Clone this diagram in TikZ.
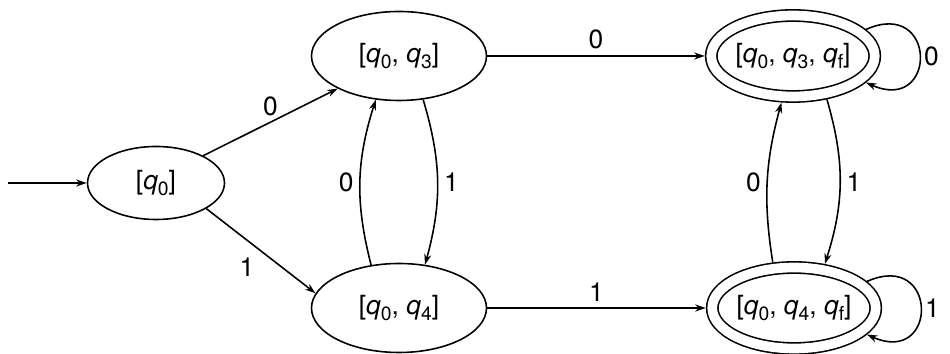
\documentclass[tikz,border=0pt]{standalone}
\usepackage{fontspec}
\setmainfont{TeX Gyre Heros}
\usepackage{tikz}
\usetikzlibrary{arrows.meta,shapes.geometric}

\newcommand{\qs}[1]{\textit{q}\raisebox{-0.4ex}{\fontsize{11}{11}\selectfont #1}}

\begin{document}
\begin{tikzpicture}[>={Stealth[length=6pt,width=4pt]}, line width=0.9pt, font=\fontsize{15}{18}\selectfont,
  state/.style={draw, ellipse, inner sep=0pt, minimum width=3.5cm, minimum height=1.78cm},
  accept/.style={state, double, double distance=5.5pt, outer sep=3.7pt, minimum width=3.27cm, minimum height=1.62cm}]
\useasboundingbox (0,0) rectangle (19,7.08);

% states
\node[state, minimum width=2.74cm, minimum height=1.46cm] (q0) at (3.12,3.42) {[\qs{0}]};
\node[state] (q03) at (7.98,5.96) {[\qs{0}, \qs{3}]};
\node[state] (q04) at (7.98,0.92) {[\qs{0}, \qs{4}]};
\node[accept] (q03f) at (15.86,5.96) {[\qs{0}, \qs{3}, \qs{f}]};
\node[accept] (q04f) at (15.88,0.92) {[\qs{0}, \qs{4}, \qs{f}]};

% start
\coordinate (start) at (0.16,3.42);
\draw[->] (start) -- (q0);

% out of [q0]
\draw[->] (q0.30) -- node[above] {0} (q03.208);
\draw[->] (q0.-27) -- node[below left] {1} (q04.170);

% between [q0,q3] and [q0,q4]
\draw[->] (q04.123) to[bend left=16] node[left] {0} (q03.242);
\draw[->] (q03.-61) to[bend left=16] node[right] {1} (q04.59);

% to the final states
\draw[->] (q03) -- node[above] {0} (q03f);
\draw[->] (q04) -- node[above] {1} (q04f);

% between the final states
\draw[->] (q04f.115) to[bend left=12] node[left] {0} (q03f.256);
\draw[->] (q03f.-52) to[bend left=17] node[right] {1} (q04f.55);

% self loops
\draw[->] (q03f.20) to[out=24, in=-24, looseness=3.8] node[right, inner sep=2pt] {0} (q03f.-20);
\draw[->] (q04f.20) to[out=24, in=-24, looseness=3.8] node[right, inner sep=2pt] {1} (q04f.-20);

\end{tikzpicture}
\end{document}
